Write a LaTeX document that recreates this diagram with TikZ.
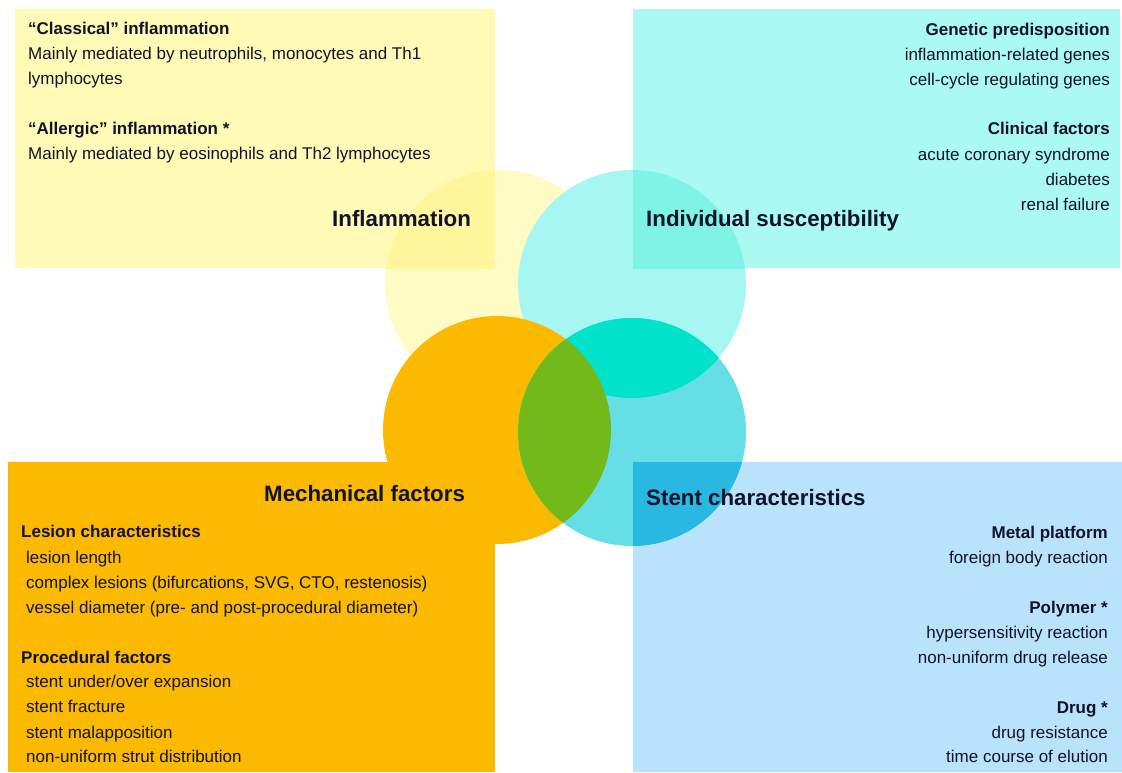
\documentclass[tikz,border=0pt]{standalone}
\usepackage{fontspec}
\setmainfont{Liberation Sans}
\definecolor{ink}{RGB}{18,18,42}
\definecolor{yelRect}{RGB}{255,251,182}
\definecolor{yelCirc}{RGB}{255,251,196}
\definecolor{yelDeep}{RGB}{255,246,156}
\definecolor{cyaRect}{RGB}{170,249,242}
\definecolor{cyaCirc}{RGB}{166,247,243}
\definecolor{cyaDeep}{RGB}{126,243,230}
\definecolor{ora}{RGB}{251,186,0}
\definecolor{teal}{RGB}{102,222,230}
\definecolor{tealCya}{RGB}{0,226,201}
\definecolor{tealOra}{RGB}{114,185,26}
\definecolor{tealBlu}{RGB}{40,184,226}
\definecolor{bluRect}{RGB}{185,227,250}
\tikzset{
  txt/.style={font=\fontsize{17}{20}\selectfont, text=ink, inner sep=0pt},
  hd/.style={font=\bfseries\fontsize{17}{20}\selectfont, text=ink, inner sep=0pt},
  ttl/.style={font=\bfseries\fontsize{22.3}{26}\selectfont, text=ink, inner sep=0pt},
}
\begin{document}
\begin{tikzpicture}[x=1pt,y=-1pt]
  \useasboundingbox (0,0) rectangle (1122,772);
  \fill[white] (0,0) rectangle (1122,772);

  % quadrant panels
  \fill[yelRect] (15,9) rectangle (495,268);
  \fill[cyaRect] (633,9) rectangle (1120,268);
  \fill[ora] (8,462) rectangle (495,772);
  \fill[bluRect] (633,462) rectangle (1122,772);

  % circle centres
  \coordinate (cY) at (499,284);
  \coordinate (cC) at (632,284);
  \coordinate (cO) at (497,430);
  \coordinate (cT) at (632,432);
  \def\rr{114pt}

  % inflammation circle
  \fill[yelCirc] (cY) circle[radius=\rr];
  \begin{scope}
    \clip (15,9) rectangle (495,268);
    \fill[yelDeep] (cY) circle[radius=\rr];
  \end{scope}

  % individual susceptibility circle
  \fill[cyaCirc] (cC) circle[radius=\rr];
  \begin{scope}
    \clip (633,9) rectangle (1120,268);
    \fill[cyaDeep] (cC) circle[radius=\rr];
  \end{scope}

  % mechanical factors circle
  \fill[ora] (cO) circle[radius=\rr];

  % stent characteristics circle and its overlaps
  \fill[teal] (cT) circle[radius=\rr];
  \begin{scope}
    \clip (cC) circle[radius=\rr];
    \fill[tealCya] (cT) circle[radius=\rr];
  \end{scope}
  \begin{scope}
    \clip (633,462) rectangle (1122,772);
    \fill[tealBlu] (cT) circle[radius=\rr];
  \end{scope}
  \begin{scope}
    \clip (cO) circle[radius=\rr];
    \fill[tealOra] (cT) circle[radius=\rr];
  \end{scope}

  % titles
  \node[ttl, anchor=base west] (tInf) at (332,226) {Inflammation};
  \node[ttl, anchor=base west] (tInd) at (646,226) {Individual susceptibility};
  \node[ttl, anchor=base west] (tMec) at (264,501) {Mechanical factors};
  \node[ttl, anchor=base west] (tSte) at (646,505) {Stent characteristics};

  % inflammation details
  \node[hd, anchor=base west] (i1) at (28,34) {“Classical” inflammation};
  \node[txt, anchor=base west] (i2) at (28,59) {Mainly mediated by neutrophils, monocytes and Th1};
  \node[txt, anchor=base west] (i3) at (28,84) {lymphocytes};
  \node[hd, anchor=base west] (i4) at (28,134) {“Allergic” inflammation *};
  \node[txt, anchor=base west] (i5) at (28,159) {Mainly mediated by eosinophils and Th2 lymphocytes};

  % susceptibility details
  \node[hd, anchor=base east] (s1) at (1110,35) {Genetic predisposition};
  \node[txt, anchor=base east] (s2) at (1110,60) {inflammation-related genes};
  \node[txt, anchor=base east] (s3) at (1110,85) {cell-cycle regulating genes};
  \node[hd, anchor=base east] (s4) at (1110,134) {Clinical factors};
  \node[txt, anchor=base east] (s5) at (1110,160) {acute coronary syndrome};
  \node[txt, anchor=base east] (s6) at (1110,185) {diabetes};
  \node[txt, anchor=base east] (s7) at (1110,210) {renal failure};

  % mechanical details
  \node[hd, anchor=base west] (m1) at (21,537) {Lesion characteristics};
  \node[txt, anchor=base west] (m2) at (26,563) {lesion length};
  \node[txt, anchor=base west] (m3) at (26,588) {complex lesions (bifurcations, SVG, CTO, restenosis)};
  \node[txt, anchor=base west] (m4) at (26,613) {vessel diameter (pre- and post-procedural diameter)};
  \node[hd, anchor=base west] (m5) at (21,663) {Procedural factors};
  \node[txt, anchor=base west] (m6) at (26,687) {stent under/over expansion};
  \node[txt, anchor=base west] (m7) at (26,712) {stent fracture};
  \node[txt, anchor=base west] (m8) at (26,738) {stent malapposition};
  \node[txt, anchor=base west] (m9) at (26,762) {non-uniform strut distribution};

  % stent details
  \node[hd, anchor=base east] (d1) at (1108,538) {Metal platform};
  \node[txt, anchor=base east] (d2) at (1108,563) {foreign body reaction};
  \node[hd, anchor=base east] (d3) at (1108,613) {Polymer *};
  \node[txt, anchor=base east] (d4) at (1108,638) {hypersensitivity reaction};
  \node[txt, anchor=base east] (d5) at (1108,663) {non-uniform drug release};
  \node[hd, anchor=base east] (d6) at (1108,713) {Drug *};
  \node[txt, anchor=base east] (d7) at (1108,738) {drug resistance};
  \node[txt, anchor=base east] (d8) at (1108,762) {time course of elution};
\end{tikzpicture}
\end{document}
